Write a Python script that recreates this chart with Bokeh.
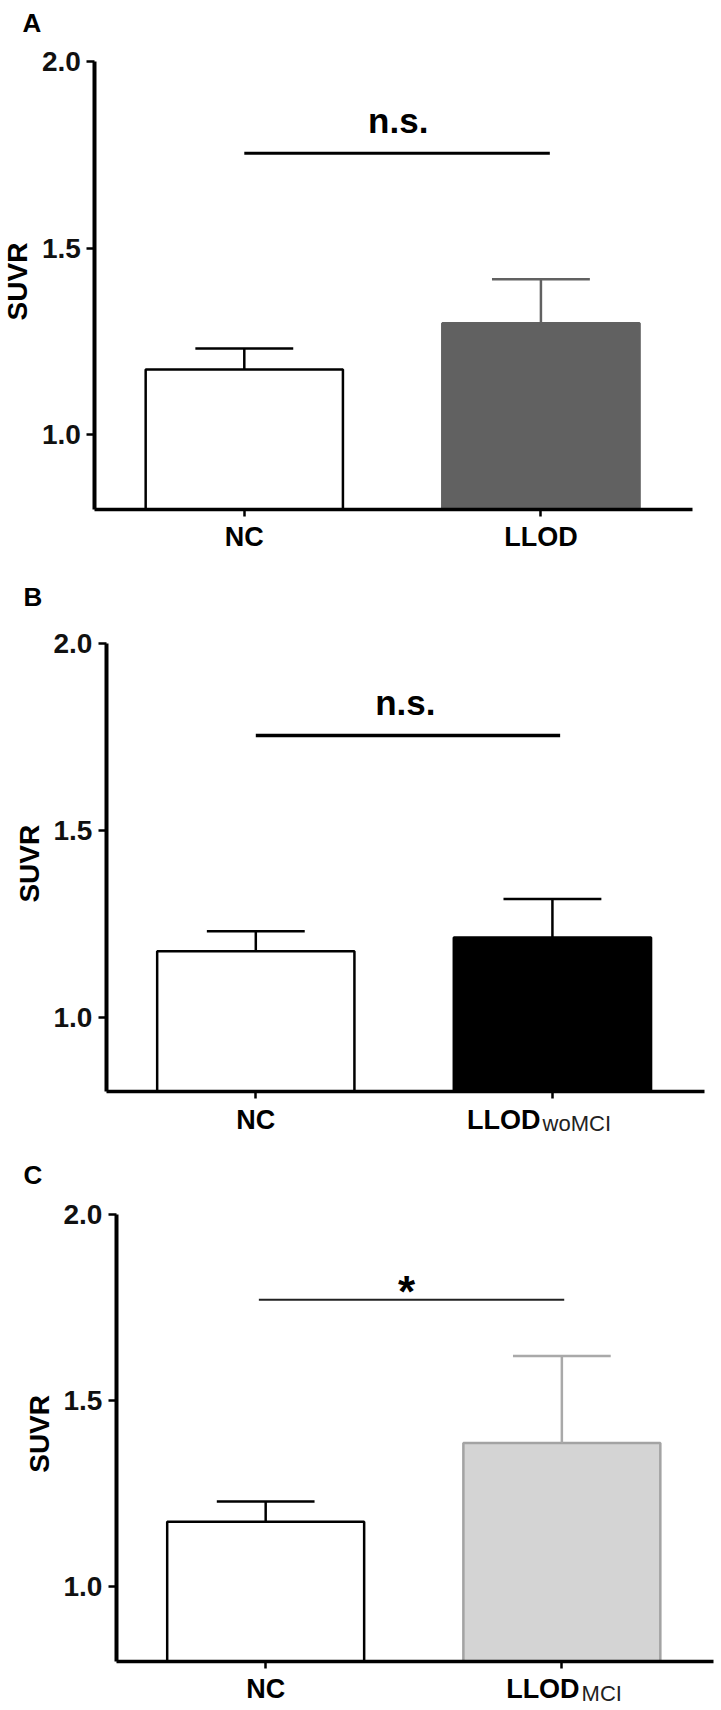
import math
from bokeh.plotting import figure
from bokeh.layouts import column
from bokeh.models import Range1d, FixedTicker, Label
from bokeh.embed import file_html
from bokeh.resources import INLINE

# ---------------- data ----------------
panel_letters = ["A", "B", "C"]
categories = ["NC", "LLOD"]
subscripts_a = ["", ""]
subscripts_b = ["", "woMCI"]
subscripts_c = ["", "MCI"]
means_a = [1.175, 1.299]
errors_a = [0.056, 0.118]
means_b = [1.176, 1.213]
errors_b = [0.054, 0.103]
means_c = [1.175, 1.386]
errors_c = [0.054, 0.234]
sig_texts = ["n.s.", "n.s.", "*"]
sig_levels = [1.755, 1.754, 1.771]
y_ticks = [1.0, 1.5, 2.0]
y_tick_labels = ["1.0", "1.5", "2.0"]
y_label = "SUVR"
Y_MIN, Y_MAX = 0.8, 2.0

# ---------------- style ----------------
FONT = "Liberation Sans"
W = 721
X_LO, X_HI = -0.504, 1.511
BAR_W = 0.665
CAP_W = 0.33
CAT_DY = 28      # px below the x axis: centre of category labels
SUB_DY = 4       # subscript centre sits a little lower
YLAB_DX = 77     # px left of the y axis: centre of the SUVR title


def make_panel(letter, means, errors, subs, sig_text, sig_y, cfg):
    H, fl, fr, ft, fb = cfg["geom"]
    ux = (fr - fl) / (X_HI - X_LO)
    uy = (fb - ft) / (Y_MAX - Y_MIN)
    xr = Range1d(X_LO - fl / ux, X_HI + (W - fr) / ux)
    yr = Range1d(Y_MIN - (H - fb) / uy, Y_MAX + ft / uy)

    p = figure(width=W, height=H, x_range=xr, y_range=yr,
               output_backend="svg", toolbar_location=None, min_border=0)
    p.title.visible = False
    p.outline_line_color = None
    p.xgrid.grid_line_color = None
    p.ygrid.grid_line_color = None
    p.background_fill_color = "white"
    p.border_fill_color = "white"

    def dx(px):  # canvas px -> data x
        return X_LO + (px - fl) / ux

    def dy(py):  # canvas px -> data y
        return Y_MAX - (py - ft) / uy

    xs = list(range(len(categories)))

    # bars
    p.vbar(x=xs, top=means, bottom=Y_MIN, width=BAR_W,
           fill_color=cfg["fills"], line_color=cfg["lines"], line_width=2.5)

    # error bars (upper only)
    tops = [m + e for m, e in zip(means, errors)]
    p.segment(x0=xs, y0=means, x1=xs, y1=tops, line_color=cfg["errc"], line_width=2.5)
    p.segment(x0=[x - CAP_W / 2 for x in xs], y0=tops,
              x1=[x + CAP_W / 2 for x in xs], y1=tops,
              line_color=cfg["errc"], line_width=2.5)

    # significance line and text
    p.segment(x0=[cfg["sig_x0"]], y0=[sig_y], x1=[cfg["sig_x1"]], y1=[sig_y],
              line_color=cfg["sig_color"], line_width=cfg["sig_lw"])
    p.add_layout(Label(x=cfg["sig_tx"], y=cfg["sig_ty"], text=sig_text,
                       text_align="center", text_baseline="middle",
                       text_font=FONT, text_font_style="bold",
                       text_font_size=cfg["sig_size"], text_color="black"))

    # axes fixed at the data frame
    yax = p.yaxis[0]
    yax.fixed_location = X_LO
    yax.bounds = (Y_MIN, Y_MAX)
    yax.ticker = FixedTicker(ticks=y_ticks)
    yax.major_label_overrides = {t: l for t, l in zip(y_ticks, y_tick_labels)}
    yax.axis_line_width = 4
    yax.axis_line_color = "black"
    yax.major_tick_line_width = 2.5
    yax.major_tick_out = 8
    yax.major_tick_in = 0
    yax.minor_tick_out = 0
    yax.minor_tick_in = 0
    yax.major_label_text_font = FONT
    yax.major_label_text_font_style = "bold"
    yax.major_label_text_font_size = "28px"
    yax.major_label_text_color = "#111111"
    yax.major_label_standoff = 6

    xax = p.xaxis[0]
    xax.fixed_location = Y_MIN
    xax.bounds = (X_LO, X_HI)
    xax.ticker = FixedTicker(ticks=xs)
    xax.major_label_overrides = {x: "" for x in xs}
    xax.major_label_text_font_size = "0px"
    xax.axis_line_width = 3.5
    xax.axis_line_color = "black"
    xax.major_tick_line_width = 2.5
    xax.major_tick_out = 7
    xax.major_tick_in = 0
    xax.minor_tick_out = 0
    xax.minor_tick_in = 0

    # y axis title
    p.add_layout(Label(x=dx(fl - YLAB_DX), y=dy((ft + fb) / 2 - 4), text=y_label,
                       angle=math.pi / 2, text_align="center",
                       text_baseline="middle", text_font=FONT,
                       text_font_style="bold", text_font_size="28px",
                       text_color="black"))

    # category labels (with subscripts)
    cat_y = dy(fb + CAT_DY)
    sub_y = dy(fb + CAT_DY + SUB_DY)
    for x, cat, sub in zip(xs, categories, subs):
        if sub:
            sx = x + cfg["split_dx"]
            p.add_layout(Label(x=sx, y=cat_y, text=cat, text_align="right",
                               text_baseline="middle", text_font=FONT,
                               text_font_style="bold", text_font_size="27px",
                               text_color="black"))
            p.add_layout(Label(x=sx, y=sub_y, x_offset=2, text=sub, text_align="left",
                               text_baseline="middle", text_font=FONT,
                               text_font_size="22px", text_color="#222222"))
        else:
            p.add_layout(Label(x=x, y=cat_y, text=cat, text_align="center",
                               text_baseline="middle", text_font=FONT,
                               text_font_style="bold", text_font_size="27px",
                               text_color="black"))

    # panel letter
    lx, ly = cfg["letter_px"]
    p.add_layout(Label(x=dx(lx), y=dy(ly), text=letter, text_align="left",
                       text_baseline="middle", text_font=FONT,
                       text_font_style="bold", text_font_size="26px",
                       text_color="black"))
    return p


# geom = (height, axis x, axis right end, y of 2.0, y of 0.8) in canvas px
cfg_a = dict(geom=(562, 94.3, 692.0, 61.4, 508.7),
             fills=["white", "#616161"], lines=["black", "#616161"],
             errc=["black", "#616161"],
             sig_x0=0.0, sig_x1=1.03, sig_lw=3, sig_color="black",
             sig_tx=0.519, sig_ty=1.842, sig_size="35px",
             split_dx=0.0, letter_px=(22, 22.3))
cfg_b = dict(geom=(578, 105.8, 703.5, 81.2, 529.2),
             fills=["white", "black"], lines=["black", "black"],
             errc=["black", "black"],
             sig_x0=0.0, sig_x1=1.026, sig_lw=3.5, sig_color="black",
             sig_tx=0.504, sig_ty=1.843, sig_size="35px",
             split_dx=-0.04, letter_px=(23, 34.6))
cfg_c = dict(geom=(568, 115.9, 712.7, 74.1, 520.7),
             fills=["white", "#d4d4d4"], lines=["black", "#a3a3a3"],
             errc=["black", "#a9a9a9"],
             sig_x0=-0.023, sig_x1=1.008, sig_lw=2, sig_color="#222222",
             sig_tx=0.476, sig_ty=1.794, sig_size="44px",
             split_dx=0.06, letter_px=(23, 34.5))

pa = make_panel(panel_letters[0], means_a, errors_a, subscripts_a, sig_texts[0], sig_levels[0], cfg_a)
pb = make_panel(panel_letters[1], means_b, errors_b, subscripts_b, sig_texts[1], sig_levels[1], cfg_b)
pc = make_panel(panel_letters[2], means_c, errors_c, subscripts_c, sig_texts[2], sig_levels[2], cfg_c)

layout = column(pa, pb, pc, spacing=0)
open("out.html", "w").write(file_html(layout, INLINE))
